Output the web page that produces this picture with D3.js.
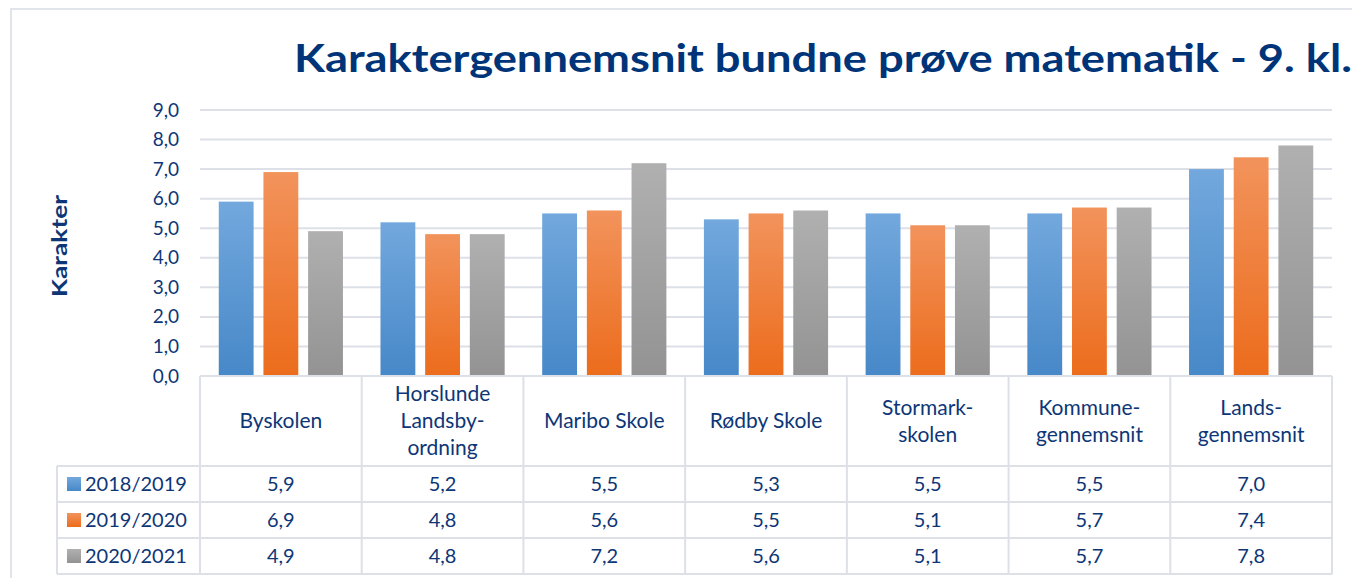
<!DOCTYPE html>
<html>
<head>
<meta charset="utf-8">
<script src="https://cdn.jsdelivr.net/npm/d3@7"></script>
<style>
  html, body { margin: 0; padding: 0; background: #fff; }
  svg { display: block; font-family: Lato, "Noto Sans", sans-serif; }
</style>
</head>
<body>
<div id="chart"></div>
<script>
// Data
const categories = [
  ["Byskolen"],
  ["Horslunde", "Landsby-", "ordning"],
  ["Maribo Skole"],
  ["Rødby Skole"],
  ["Stormark-", "skolen"],
  ["Kommune-", "gennemsnit"],
  ["Lands-", "gennemsnit"]
];
const seriesNames = ["2018/2019", "2019/2020", "2020/2021"];
const values2018 = [5.9, 5.2, 5.5, 5.3, 5.5, 5.5, 7.0];
const values2019 = [6.9, 4.8, 5.6, 5.5, 5.1, 5.7, 7.4];
const values2020 = [4.9, 4.8, 7.2, 5.6, 5.1, 5.7, 7.8];
const yTicks = [0, 1, 2, 3, 4, 5, 6, 7, 8, 9];

const series = [values2018, values2019, values2020];
const colorTop = ["#72a8dd", "#f2935c", "#b0b0b0"];
const colorBottom = ["#4788c8", "#ec6c1c", "#939393"];

const width = 1352, height = 578;
const textColor = "#0d3677";
const lineColor = "#dde0e7";

const svg = d3.select("#chart").append("svg")
    .attr("width", width)
    .attr("height", height);

// Gradients for bars
const defs = svg.append("defs");
seriesNames.forEach((s, i) => {
  const g = defs.append("linearGradient")
      .attr("id", "grad" + i)
      .attr("x1", 0).attr("y1", 0).attr("x2", 0).attr("y2", 1);
  g.append("stop").attr("offset", "0%").attr("stop-color", colorTop[i]);
  g.append("stop").attr("offset", "100%").attr("stop-color", colorBottom[i]);
});

// Outer frame
svg.append("rect")
    .attr("x", 11).attr("y", 9)
    .attr("width", width + 20).attr("height", height + 20)
    .attr("fill", "none")
    .attr("stroke", "#e1e4ea")
    .attr("stroke-width", 2);

// Title
svg.append("text")
    .attr("x", 294).attr("y", 72)
    .attr("font-size", 39)
    .attr("font-weight", "bold")
    .attr("fill", "#003478")
    .attr("textLength", 1058)
    .attr("lengthAdjust", "spacingAndGlyphs")
    .text("Karaktergennemsnit bundne prøve matematik - 9. kl.");

// Scales
const x = d3.scaleBand()
    .domain(d3.range(categories.length))
    .range([200, 1332])
    .paddingInner(0).paddingOuter(0);

const inner = d3.scaleBand()
    .domain(d3.range(series.length))
    .range([0, x.bandwidth()])
    .paddingInner(0.22)
    .paddingOuter(0.42);

const y = d3.scaleLinear().domain([0, 9]).range([376, 110]);

// Gridlines
svg.append("g")
  .selectAll("line")
  .data(yTicks.filter(d => d > 0))
  .join("line")
    .attr("x1", 200).attr("x2", 1332)
    .attr("y1", d => y(d)).attr("y2", d => y(d))
    .attr("stroke", lineColor)
    .attr("stroke-width", 2);

// Y axis
const yAxis = svg.append("g")
    .attr("transform", "translate(179,0)")
    .call(d3.axisLeft(y).tickValues(yTicks).tickSize(0).tickPadding(0)
      .tickFormat(d => d3.format(".1f")(d).replace(".", ",")));
yAxis.select(".domain").remove();
yAxis.selectAll("text")
    .attr("font-size", 19)
    .attr("font-family", "Lato, 'Noto Sans', sans-serif")
    .attr("fill", textColor);

// Y axis title
svg.append("text")
    .attr("transform", "translate(67,246) rotate(-90)")
    .attr("text-anchor", "middle")
    .attr("font-size", 20)
    .attr("font-weight", "bold")
    .attr("fill", textColor)
    .attr("textLength", 102)
    .attr("lengthAdjust", "spacingAndGlyphs")
    .text("Karakter");

// Bars
series.forEach((vals, si) => {
  svg.append("g")
    .selectAll("rect")
    .data(vals)
    .join("rect")
      .attr("x", (d, i) => x(i) + inner(si))
      .attr("width", inner.bandwidth())
      .attr("y", d => y(d))
      .attr("height", d => y(0) - y(d))
      .attr("fill", "url(#grad" + si + ")");
});

// Data table
const tableTop = 376, headerH = 90, rowH = 36;
const legendLeft = 57;
const table = svg.append("g")
    .attr("stroke", lineColor)
    .attr("stroke-width", 2)
    .attr("fill", "none");

// horizontal lines
table.append("line")
    .attr("x1", 200).attr("x2", 1332)
    .attr("y1", tableTop).attr("y2", tableTop);
d3.range(series.length + 1).forEach(r => {
  const yy = tableTop + headerH + r * rowH;
  table.append("line")
      .attr("x1", legendLeft).attr("x2", 1332)
      .attr("y1", yy).attr("y2", yy);
});
// vertical lines
table.append("line")
    .attr("x1", legendLeft).attr("x2", legendLeft)
    .attr("y1", tableTop + headerH).attr("y2", tableTop + headerH + 3 * rowH);
d3.range(categories.length + 1).forEach(c => {
  const xx = 200 + c * x.bandwidth();
  table.append("line")
      .attr("x1", xx).attr("x2", xx)
      .attr("y1", tableTop).attr("y2", tableTop + headerH + 3 * rowH);
});

// header labels
const lineH = 27;
svg.append("g")
  .selectAll("text")
  .data(categories)
  .join("text")
    .attr("text-anchor", "middle")
    .attr("font-size", 21)
    .attr("fill", textColor)
    .each(function(lines, i) {
      const cx = x(i) + x.bandwidth() / 2;
      const startY = tableTop + headerH / 2 + 7 - (lines.length - 1) * lineH / 2;
      d3.select(this).selectAll("tspan")
        .data(lines)
        .join("tspan")
          .attr("x", cx)
          .attr("y", (d, k) => startY + k * lineH)
          .text(d => d);
    });

// legend cells and values
series.forEach((vals, si) => {
  const rowMid = tableTop + headerH + si * rowH + rowH / 2;
  svg.append("rect")
      .attr("x", 67).attr("y", rowMid - 7)
      .attr("width", 14).attr("height", 14)
      .attr("fill", "url(#grad" + si + ")");
  svg.append("text")
      .attr("x", 85).attr("y", rowMid + 7)
      .attr("font-size", 20)
      .attr("fill", textColor)
      .text(seriesNames[si]);
  svg.append("g")
    .selectAll("text")
    .data(vals)
    .join("text")
      .attr("x", (d, i) => x(i) + x.bandwidth() / 2)
      .attr("y", rowMid + 7)
      .attr("text-anchor", "middle")
      .attr("font-size", 20)
      .attr("fill", textColor)
      .text(d => d3.format(".1f")(d).replace(".", ","));
});
</script>
</body>
</html>
